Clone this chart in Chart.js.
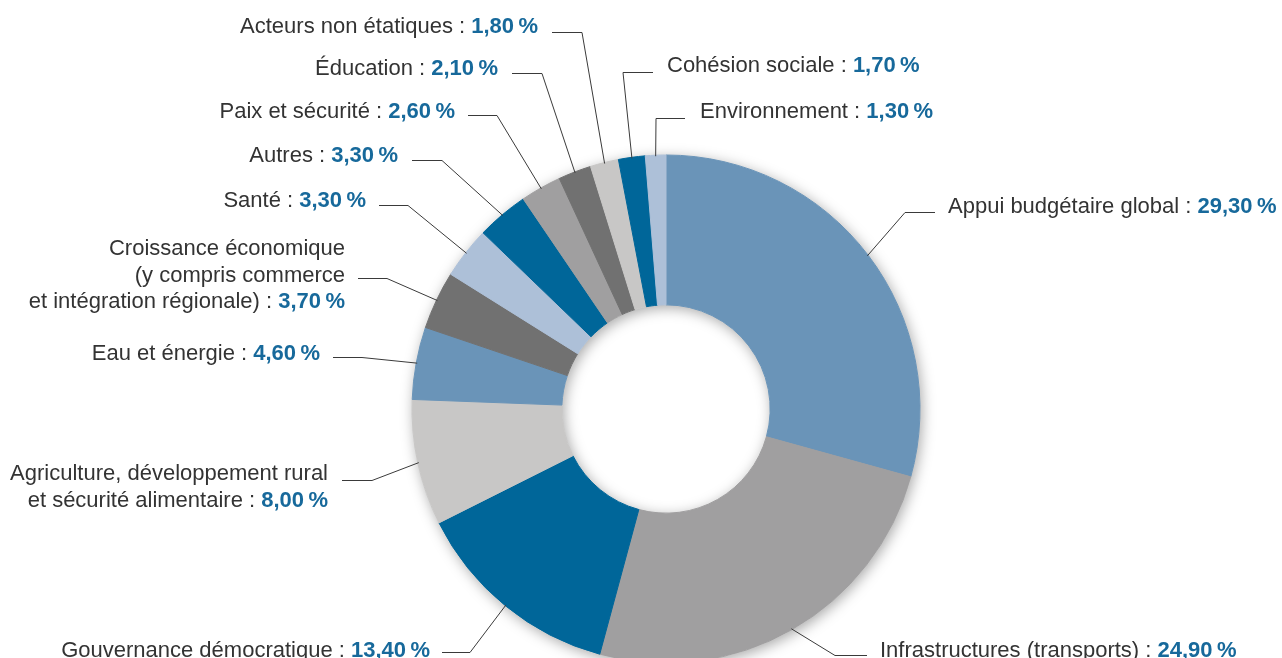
<!DOCTYPE html>
<html lang="fr">
<head>
<meta charset="utf-8">
<title>Répartition par secteur</title>
<script src="https://cdn.jsdelivr.net/npm/chart.js@4.4.0/dist/chart.umd.min.js"></script>
<style>
  html, body { margin: 0; padding: 0; background: #fff; }
  #wrap { width: 1282px; height: 658px; position: relative; }
</style>
</head>
<body>
<div id="wrap"><canvas id="secteurs" width="1282" height="658"></canvas></div>
<script>
// data, in drawing order (clockwise from 12 o'clock)
const categories = [
  ['Appui budgétaire global'],
  ['Infrastructures (transports)'],
  ['Gouvernance démocratique'],
  ['Agriculture, développement rural', 'et sécurité alimentaire'],
  ['Eau et énergie'],
  ['Croissance économique', '(y compris commerce', 'et intégration régionale)'],
  ['Santé'],
  ['Autres'],
  ['Paix et sécurité'],
  ['Éducation'],
  ['Acteurs non étatiques'],
  ['Cohésion sociale'],
  ['Environnement']
];
const values = [29.3, 24.9, 13.4, 8.0, 4.6, 3.7, 3.3, 3.3, 2.6, 2.1, 1.8, 1.7, 1.3];

const BLUE = '#6a94b8', GREY = '#a09fa0', DARKBLUE = '#006699', LIGHTGREY = '#c8c7c6',
      DARKGREY = '#717171', LIGHTBLUE = '#adc0d8';
const colors = [BLUE, GREY, DARKBLUE, LIGHTGREY, BLUE, DARKGREY, LIGHTBLUE,
                DARKBLUE, GREY, DARKGREY, LIGHTGREY, DARKBLUE, LIGHTBLUE];

// where each label sits: text anchor x, baseline of first line, the leader's
// horizontal part (y, from x1 to x2) then down/up to the slice
const labelLayout = [
  {x: 948, y: 213, align: 'left',  ly: 212, x1: 935, x2: 905},
  {x: 880, y: 657, align: 'left',  ly: 655, x1: 867, x2: 835},
  {x: 430, y: 657, align: 'right', ly: 652, x1: 442, x2: 470},
  {x: 328, y: 480, align: 'right', ly: 480, x1: 342, x2: 372},
  {x: 320, y: 360, align: 'right', ly: 357, x1: 333, x2: 362},
  {x: 345, y: 255, align: 'right', ly: 278, x1: 358, x2: 387},
  {x: 366, y: 207, align: 'right', ly: 205, x1: 379, x2: 408},
  {x: 398, y: 162, align: 'right', ly: 160, x1: 412, x2: 442},
  {x: 455, y: 118, align: 'right', ly: 115, x1: 468, x2: 497},
  {x: 498, y: 75,  align: 'right', ly: 73,  x1: 512, x2: 542},
  {x: 538, y: 33,  align: 'right', ly: 32,  x1: 552, x2: 582},
  {x: 667, y: 72,  align: 'left',  ly: 72,  x1: 653, x2: 623},
  {x: 700, y: 118, align: 'left',  ly: 118, x1: 685, x2: 656}
];

const FONT = '"Liberation Sans", Arial, sans-serif';
const LINE_H = 26.5;

function fmt(v) {
  return v.toFixed(2).replace('.', ',') + '\u2009%';
}

const ringShadow = {
  id: 'ringShadow',
  beforeDatasetsDraw(chart) {
    const arc = chart.getDatasetMeta(0).data[0];
    if (!arc) return;
    const {x, y, outerRadius, innerRadius} = arc.getProps(['x', 'y', 'outerRadius', 'innerRadius'], true);
    const ctx = chart.ctx;
    ctx.save();
    ctx.beginPath();
    ctx.arc(x, y, outerRadius, 0, Math.PI * 2);
    ctx.moveTo(x + innerRadius, y);
    ctx.arc(x, y, innerRadius, 0, Math.PI * 2, true);
    ctx.shadowColor = 'rgba(0,0,0,0.35)';
    ctx.shadowBlur = 14;
    ctx.shadowOffsetX = 2;
    ctx.shadowOffsetY = 3;
    ctx.fillStyle = '#fff';
    ctx.fill('evenodd');
    ctx.restore();
  }
};

const leaderLabels = {
  id: 'leaderLabels',
  afterDatasetsDraw(chart) {
    const ctx = chart.ctx;
    const arcs = chart.getDatasetMeta(0).data;
    ctx.save();
    arcs.forEach((arc, i) => {
      const L = labelLayout[i];
      const p = arc.getProps(['x', 'y', 'startAngle', 'endAngle', 'outerRadius'], true);
      const mid = (p.startAngle + p.endAngle) / 2;
      const ax = p.x + Math.cos(mid) * (p.outerRadius - 1);
      const ay = p.y + Math.sin(mid) * (p.outerRadius - 1);

      ctx.strokeStyle = '#3a3a3a';
      ctx.lineWidth = 1;
      ctx.beginPath();
      ctx.moveTo(L.x1, L.ly + 0.5);
      ctx.lineTo(L.x2, L.ly + 0.5);
      ctx.lineTo(ax, ay);
      ctx.stroke();

      const lines = categories[i];
      const value = fmt(values[i]);
      const regular = '22px ' + FONT;
      const bold = 'bold 22px ' + FONT;
      ctx.textBaseline = 'alphabetic';
      lines.forEach((txt, k) => {
        const yy = L.y + k * LINE_H;
        const last = k === lines.length - 1;
        const body = last ? txt + ' : ' : txt;
        ctx.font = regular;
        const wBody = ctx.measureText(body).width;
        ctx.font = bold;
        const wVal = last ? ctx.measureText(value).width : 0;
        let x0 = L.align === 'left' ? L.x : L.x - wBody - wVal;
        ctx.textAlign = 'left';
        ctx.font = regular;
        ctx.fillStyle = '#333333';
        ctx.fillText(body, x0, yy);
        if (last) {
          ctx.font = bold;
          ctx.fillStyle = '#17699b';
          ctx.fillText(value, x0 + wBody, yy);
        }
      });
    });
    ctx.restore();
  }
};

const ctx = document.getElementById('secteurs').getContext('2d');
const secteursChart = new Chart(ctx, {
  type: 'doughnut',
  data: {
    labels: categories.map(l => l.join(' ')),
    datasets: [{
      data: values,
      backgroundColor: colors,
      borderColor: colors,
      borderWidth: 1
    }]
  },
  options: {
    responsive: false,
    animation: false,
    radius: 254,
    cutout: '41%',
    layout: {
      padding: {left: 100, right: 50, top: 160, bottom: 0}
    },
    plugins: {
      legend: {display: false},
      tooltip: {enabled: false}
    }
  },
  plugins: [ringShadow, leaderLabels]
});
</script>
</body>
</html>
